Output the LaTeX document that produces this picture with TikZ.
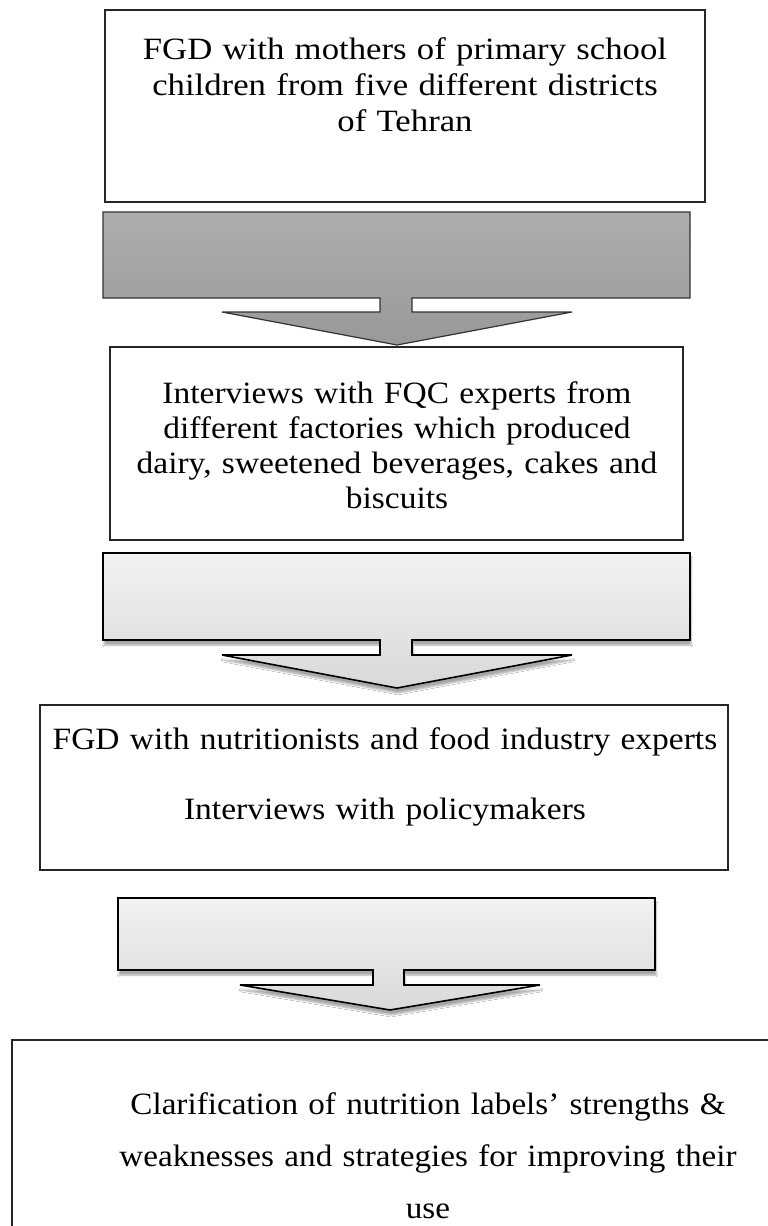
\documentclass[tikz,border=0pt]{standalone}
\usepackage{fontspec}
\setmainfont{Liberation Serif}
\newfontfamily\fontA[FakeStretch=1.12]{Liberation Serif}
\newfontfamily\fontB[FakeStretch=1.08]{Liberation Serif}
\newfontfamily\fontC[FakeStretch=1.08]{Liberation Serif}
\newfontfamily\fontD[FakeStretch=1.07]{Liberation Serif}
\usetikzlibrary{shadows,shadows.blur}
\begin{document}
\begin{tikzpicture}[x=1pt,y=-1pt,
  box/.style={draw=black!85,line width=1.2pt,fill=white,rectangle,inner sep=0pt},
  txt/.style={align=center,inner sep=0pt},
  darkarrow/.style={draw=black!80,line width=1.2pt,top color=black!32,bottom color=black!40},
  lightarrow/.style={draw=black,line width=1.6pt,top color=black!5,bottom color=black!15,
     blur shadow={shadow xshift=1pt,shadow yshift=-5pt,shadow blur steps=6,shadow opacity=35}}]
\useasboundingbox (0,0) rectangle (768,1226);
\clip (0,0) rectangle (768,1226);
\fill[white] (0,0) rectangle (768,1226);
% boxes
\node[box,minimum width=600pt,minimum height=192pt] (b1) at (405,106) {};
\node[txt,text width=590pt,font=\fontA\fontsize{31}{36}\selectfont] (t1) at (405,85) {FGD with mothers of primary school\\children from five different districts\\of Tehran};
\node[box,minimum width=573pt,minimum height=193pt] (b2) at (396.5,443.5) {};
\node[txt,text width=570pt,font=\fontB\fontsize{31}{35}\selectfont] (t2) at (397,445) {Interviews with FQC experts from\\different factories which produced\\dairy, sweetened beverages, cakes and\\biscuits};
\node[box,minimum width=688pt,minimum height=165pt] (b3) at (384,787.5) {};
\node[txt,text width=686pt,font=\fontC\fontsize{31}{70}\selectfont] (t3) at (385,777) {FGD with nutritionists and food industry experts\\Interviews with policymakers};
\node[box,minimum width=800pt,minimum height=300pt] (b4) at (412,1190) {};
\node[txt,text width=740pt,font=\fontD\fontsize{31}{52}\selectfont] (t4) at (428,1156) {Clarification of nutrition labels’ strengths \&\\weaknesses and strategies for improving their\\use};
% callout arrows
\path[darkarrow] (103,212) -- (690,212) -- (690,298) -- (412,298) -- (412,312) -- (572,312)
  -- (397,345) -- (222,312) -- (380,312) -- (380,298) -- (103,298) -- cycle;
\path[lightarrow] (103,553) -- (690,553) -- (690,640) -- (412,640) -- (412,655) -- (572,655)
  -- (397,688) -- (222,655) -- (380,655) -- (380,640) -- (103,640) -- cycle;
\path[lightarrow] (118,898) -- (655,898) -- (655,970) -- (404,970) -- (404,985) -- (540,985)
  -- (390,1010) -- (240,985) -- (373,985) -- (373,970) -- (118,970) -- cycle;
\end{tikzpicture}
\end{document}
